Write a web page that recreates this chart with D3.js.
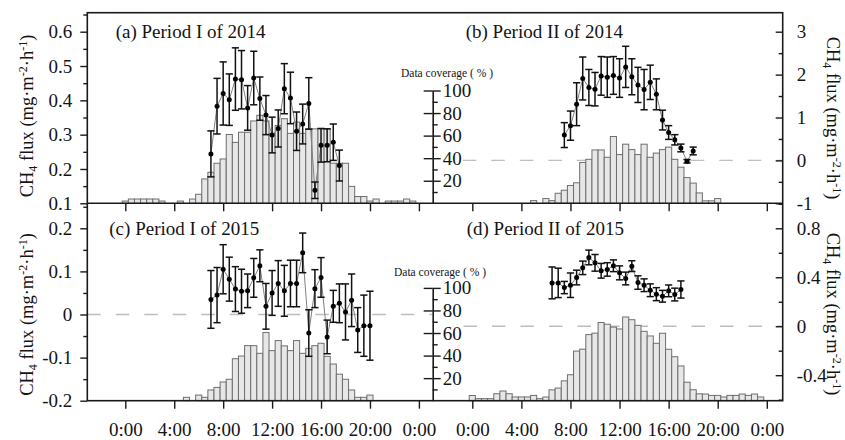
<!DOCTYPE html>
<html>
<head>
<meta charset="utf-8">
<script src="https://cdn.jsdelivr.net/npm/d3@7"></script>
<style>
  body { margin: 0; background: #fff; }
  svg { display: block; }
  text { font-family: "Liberation Serif", "Times New Roman", serif; fill: #141414; }
</style>
</head>
<body>
<svg id="chart" width="845" height="440"></svg>
<script>
// ---- categories and tick labels ----
const hourTicks = [0, 4, 8, 12, 16, 20, 24];
const hourLabels = ["0:00", "4:00", "8:00", "12:00", "16:00", "20:00", "0:00"];
const coverageTicks = [20, 40, 60, 80, 100];
const coverageMinor = [10, 30, 50, 70, 90];
const panelTitles = ["(a) Period I of 2014", "(b) Period II of 2014", "(c) Period I of 2015", "(d) Period II of 2015"];

const yTicksA = [0.1, 0.2, 0.3, 0.4, 0.5, 0.6];
const yLabelsA = ["0.1", "0.2", "0.3", "0.4", "0.5", "0.6"];
const yMinorA = [0.15, 0.25, 0.35, 0.45, 0.55, 0.65];
const yTicksB = [-1, 0, 1, 2, 3];
const yLabelsB = ["-1", "0", "1", "2", "3"];
const yMinorB = [-0.5, 0.5, 1.5, 2.5];
const yTicksC = [-0.2, -0.1, 0, 0.1, 0.2];
const yLabelsC = ["-0.2", "-0.1", "0", "0.1", "0.2"];
const yMinorC = [-0.15, -0.05, 0.05, 0.15, 0.25];
const yTicksD = [-0.4, 0, 0.4, 0.8];
const yLabelsD = ["-0.4", "0", "0.4", "0.8"];
const yMinorD = [-0.6, -0.2, 0.2, 0.6, 1.0];

// ---- data coverage (%) of each half-hour slot, 0:00 ... 23:30 ----
const coverageA = [2, 3.8, 3.8, 3.8, 3.8, 3.8, 2, 0, 0, 2, 0, 3.8,
  8, 21.6, 27.5, 35.5, 39.3, 61, 54, 63, 63, 73, 78, 73,
  62, 69, 75, 62, 72, 62, 66, 66, 66, 66, 35.5, 35.5,
  35.5, 15, 6, 6, 2, 3.8, 0, 2, 2, 2, 3.8, 2];
const coverageB = [0, 0, 0, 0, 0, 0, 0, 0, 0, 0, 2.4, 0,
  4.2, 2.4, 8.9, 11.6, 15.8, 18.2, 36.2, 39, 47.3, 47.3, 40.8, 59.2,
  43.2, 52.4, 47.6, 43.2, 52.4, 40.8, 44.5, 47.6, 49.8, 39, 32, 22.8,
  17.9, 9.2, 2.2, 2.2, 4.2, 0, 0, 0, 0, 0, 0, 0];
const coverageC = [0, 0, 0, 0, 0, 0, 0, 0, 0, 0, 3, 0,
  5, 3, 9.5, 11.8, 16.6, 19, 37.2, 39.6, 48.8, 48.8, 42, 60.4,
  44.4, 53.3, 48.6, 44.4, 53.3, 42, 46.4, 48.8, 50.9, 39.3, 32.5, 23.5,
  19, 9.5, 3, 3, 5, 0, 0, 0, 0, 0, 0, 0];
const coverageD = [4.6, 1.8, 1.8, 1.8, 6.2, 8.6, 6.2, 3.3, 3.3, 3.3, 4.7, 1.8,
  3.3, 9.6, 11.2, 17.6, 23, 44, 45.7, 58.6, 59.9, 69.3, 67.8, 65.2,
  63.6, 74.2, 71.8, 66.8, 61.5, 57.4, 50.9, 59.8, 45.6, 39, 30.8, 16.4,
  9.7, 6.1, 5.9, 4.7, 4.7, 3.3, 4.7, 4.7, 5.9, 4.7, 5.9, 3.3];

// ---- half-hourly mean CH4 flux and its error, from the first slot hour ----
const fluxStartA = 7.0;
const fluxA = [0.244, 0.383, 0.420, 0.402, 0.462, 0.460, 0.378, 0.465, 0.405, 0.357, 0.299,
  0.318, 0.434, 0.407, 0.310, 0.331, 0.391, 0.138, 0.269, 0.269, 0.278, 0.210];
const errorA = [0.067, 0.081, 0.092, 0.075, 0.091, 0.085, 0.065, 0.078, 0.063, 0.057, 0.052,
  0.054, 0.073, 0.075, 0.056, 0.058, 0.075, 0.024, 0.049, 0.048, 0.053, 0.045];

const fluxStartB = 7.5;
const fluxB = [0.59, 0.81, 1.31, 1.91, 1.70, 1.66, 1.97, 1.94, 1.98, 1.92, 2.18,
  1.95, 1.76, 1.65, 1.82, 1.54, 0.94, 0.65, 0.48, 0.29, -0.02, 0.22];
const errorB = [0.29, 0.34, 0.50, 0.50, 0.42, 0.39, 0.45, 0.47, 0.44, 0.45, 0.48,
  0.42, 0.41, 0.47, 0.40, 0.36, 0.23, 0.16, 0.12, 0.09, 0.04, 0.09];

const fluxStartC = 7.0;
const fluxC = [0.035, 0.045, 0.105, 0.082, 0.059, 0.054, 0.055, 0.085, 0.113, 0.019, 0.050,
  0.072, 0.055, 0.072, 0.072, 0.143, -0.043, 0.060, 0.086, -0.052, 0.019, 0.026,
  0.006, 0.033, -0.036, -0.026, -0.026];
const errorC = [0.067, 0.064, 0.057, 0.051, 0.052, 0.051, 0.039, 0.045, 0.037, 0.053, 0.052,
  0.053, 0.059, 0.054, 0.054, 0.046, 0.054, 0.044, 0.046, 0.039, 0.037, 0.045,
  0.065, 0.061, 0.052, 0.071, 0.080];

const fluxStartD = 6.5;
const fluxD = [0.354, 0.354, 0.316, 0.335, 0.398, 0.477, 0.562, 0.518, 0.453, 0.464, 0.494,
  0.436, 0.390, 0.491, 0.357, 0.335, 0.294, 0.262, 0.245, 0.289, 0.259, 0.300];
const errorD = [0.13, 0.12, 0.05, 0.10, 0.06, 0.055, 0.06, 0.068, 0.06, 0.055, 0.048,
  0.057, 0.052, 0.044, 0.055, 0.052, 0.052, 0.053, 0.048, 0.048, 0.052, 0.07];

// ---- layout ----
const FRAME = { left: 87.3, right: 782.7, top: 12.7, mid: 203.3, bottom: 400.7, split: 432.7 };
const FONT = 19;
const INK = "#1a1a1a";

const svg = d3.select("#chart");
svg.append("rect").attr("width", 845).attr("height", 440).attr("fill", "#fff");

const xLeft = d3.scaleLinear().domain([0, 24]).range([125.3, 418.9]);
const xRight = d3.scaleLinear().domain([0, 24]).range([472.3, 766.8]);
const yA = d3.scaleLinear().domain([0.1, 0.6]).range([203.3, 31.7]);
const yB = d3.scaleLinear().domain([-1, 3]).range([203.3, 31.7]);
const yC = d3.scaleLinear().domain([-0.2, 0.2]).range([400.7, 228.3]);
const yD = d3.scaleLinear().domain([-0.4, 0.8]).range([375.2, 228.3]);
const covTop = d3.scaleLinear().domain([0, 100]).range([203.3, 90.5]);
const covBottom = d3.scaleLinear().domain([0, 100]).range([400.7, 287.9]);

const panels = [
  { title: panelTitles[0], tx: 115.7, ty: 37.5, x: xLeft, y: yA, cov: coverageA, c: covTop,
    flux: fluxA, err: errorA, start: fluxStartA, dash: null },
  { title: panelTitles[1], tx: 465.7, ty: 37.5, x: xRight, y: yB, cov: coverageB, c: covTop,
    flux: fluxB, err: errorB, start: fluxStartB, dash: [462.8, FRAME.right] },
  { title: panelTitles[2], tx: 109.3, ty: 234.5, x: xLeft, y: yC, cov: coverageC, c: covBottom,
    flux: fluxC, err: errorC, start: fluxStartC, dash: [FRAME.left, FRAME.split] },
  { title: panelTitles[3], tx: 466.7, ty: 234.5, x: xRight, y: yD, cov: coverageD, c: covBottom,
    flux: fluxD, err: errorD, start: fluxStartD, dash: [463.5, FRAME.right] }
];

panels.forEach(p => {
  const g = svg.append("g");

  // zero reference line
  if (p.dash) {
    g.append("line")
      .attr("x1", p.dash[0]).attr("x2", p.dash[1])
      .attr("y1", p.y(0)).attr("y2", p.y(0))
      .attr("stroke", "#bdbdbd").attr("stroke-width", 1.4)
      .attr("stroke-dasharray", "13.5,15");
  }

  // data coverage bars, one per half-hour slot
  const slots = p.cov.map((v, i) => ({ t: i * 0.5, v })).filter(d => d.v > 0);
  g.selectAll("rect.bar").data(slots).join("rect")
    .attr("class", "bar")
    .attr("x", d => p.x(d.t - 0.25))
    .attr("width", d => p.x(d.t + 0.25) - p.x(d.t - 0.25))
    .attr("y", d => p.c(d.v))
    .attr("height", d => p.c(0) - p.c(d.v))
    .attr("fill", "#e7e7e7")
    .attr("stroke", "#6e6e6e")
    .attr("stroke-width", 1);

  // flux points with error bars
  const pts = p.flux.map((v, i) => ({ t: p.start + i * 0.5, v, e: p.err[i] }));
  g.append("path").datum(pts)
    .attr("d", d3.line().x(d => p.x(d.t)).y(d => p.y(d.v)))
    .attr("fill", "none").attr("stroke", "#808080").attr("stroke-width", 1);

  const eb = g.selectAll("g.err").data(pts).join("g").attr("class", "err")
    .attr("stroke", "#111").attr("stroke-width", 1.5);
  eb.append("line")
    .attr("x1", d => p.x(d.t)).attr("x2", d => p.x(d.t))
    .attr("y1", d => p.y(d.v - d.e)).attr("y2", d => p.y(d.v + d.e));
  eb.append("line")
    .attr("x1", d => p.x(d.t) - 3.6).attr("x2", d => p.x(d.t) + 3.6)
    .attr("y1", d => p.y(d.v + d.e)).attr("y2", d => p.y(d.v + d.e));
  eb.append("line")
    .attr("x1", d => p.x(d.t) - 3.6).attr("x2", d => p.x(d.t) + 3.6)
    .attr("y1", d => p.y(d.v - d.e)).attr("y2", d => p.y(d.v - d.e));

  g.selectAll("circle").data(pts).join("circle")
    .attr("cx", d => p.x(d.t)).attr("cy", d => p.y(d.v))
    .attr("r", 2.5).attr("fill", "#000");

  g.append("text")
    .attr("x", p.tx).attr("y", p.ty)
    .attr("font-size", FONT)
    .text(p.title);
});

// ---- frame ----
svg.append("rect")
  .attr("x", FRAME.left).attr("y", FRAME.top)
  .attr("width", FRAME.right - FRAME.left).attr("height", FRAME.bottom - FRAME.top)
  .attr("fill", "none").attr("stroke", INK).attr("stroke-width", 1.6);
svg.append("line")
  .attr("x1", FRAME.left).attr("x2", FRAME.right)
  .attr("y1", FRAME.mid).attr("y2", FRAME.mid)
  .attr("stroke", INK).attr("stroke-width", 1.6);

function styleAxis(g, keepDomain) {
  if (!keepDomain) g.select(".domain").remove();
  g.attr("font-family", null).attr("font-size", null);
  g.selectAll(".tick line").attr("stroke", INK).attr("stroke-width", 1.4);
  g.selectAll(".domain").attr("stroke", INK).attr("stroke-width", 1.6);
  g.selectAll("text").attr("font-size", FONT).attr("fill", "#141414");
}

// ---- time axes ----
[[xLeft, FRAME.mid, false], [xRight, FRAME.mid, false],
 [xLeft, FRAME.bottom, true], [xRight, FRAME.bottom, true]].forEach(([sc, yPos, labelled]) => {
  const ax = d3.axisBottom(sc).tickValues(hourTicks).tickSize(8).tickPadding(13.5)
    .tickFormat((d, i) => labelled ? hourLabels[i] : "");
  svg.append("g").attr("transform", `translate(0,${yPos})`).call(ax).call(g => styleAxis(g));
});

// ---- flux axes ----
function fluxAxis(side, scale, ticks, labels, minor) {
  const xPos = side === "left" ? FRAME.left : FRAME.right;
  const major = side === "left"
    ? d3.axisLeft(scale).tickSize(7).tickPadding(8)
    : d3.axisRight(scale).tickSizeInner(-7).tickSizeOuter(0).tickPadding(14);
  major.tickValues(ticks).tickFormat((d, i) => labels[i]);
  svg.append("g").attr("transform", `translate(${xPos},0)`).call(major).call(g => styleAxis(g));
  const small = side === "left"
    ? d3.axisLeft(scale).tickSize(4)
    : d3.axisRight(scale).tickSizeInner(-4).tickSizeOuter(0);
  small.tickValues(minor).tickFormat("");
  svg.append("g").attr("transform", `translate(${xPos},0)`).call(small).call(g => styleAxis(g));
}
fluxAxis("left", yA, yTicksA, yLabelsA, yMinorA);
fluxAxis("right", yB, yTicksB, yLabelsB, yMinorB);
fluxAxis("left", yC, yTicksC, yLabelsC, yMinorC);
fluxAxis("right", yD, yTicksD, yLabelsD, yMinorD);

// ---- data coverage axes between the panels ----
[[covTop, 76.5, 447], [covBottom, 276, 440]].forEach(([sc, labelY, labelX]) => {
  svg.append("g").attr("transform", `translate(${FRAME.split},0)`)
    .call(d3.axisRight(sc).tickValues(coverageTicks).tickSizeInner(8).tickSizeOuter(0).tickPadding(2))
    .call(g => styleAxis(g, true));
  svg.append("g").attr("transform", `translate(${FRAME.split},0)`)
    .call(d3.axisLeft(sc).tickValues(coverageTicks).tickSize(9).tickFormat(""))
    .call(g => styleAxis(g));
  svg.append("g").attr("transform", `translate(${FRAME.split},0)`)
    .call(d3.axisRight(sc).tickValues(coverageMinor).tickSize(5).tickFormat(""))
    .call(g => styleAxis(g));
  svg.append("text")
    .attr("x", labelX).attr("y", labelY)
    .attr("text-anchor", "middle").attr("font-size", 11.5)
    .text("Data coverage ( % )");
});

// ---- flux axis titles ----
function fluxTitle(x, y, angle) {
  const t = svg.append("text")
    .attr("transform", `translate(${x},${y}) rotate(${angle})`)
    .attr("text-anchor", "middle")
    .attr("font-size", 18.5);
  t.append("tspan").text("CH");
  t.append("tspan").attr("font-size", 12).attr("dy", 4).text("4");
  t.append("tspan").attr("dy", -4).text(" flux (mg\u00b7m");
  t.append("tspan").attr("font-size", 12).attr("dy", -6).text("-2");
  t.append("tspan").attr("dy", 6).text("\u00b7h");
  t.append("tspan").attr("font-size", 12).attr("dy", -6).text("-1");
  t.append("tspan").attr("dy", 6).text(")");
}
fluxTitle(33, 116, -90);
fluxTitle(33, 314.5, -90);
fluxTitle(827, 118, 90);
fluxTitle(827, 314, 90);
</script>
</body>
</html>
